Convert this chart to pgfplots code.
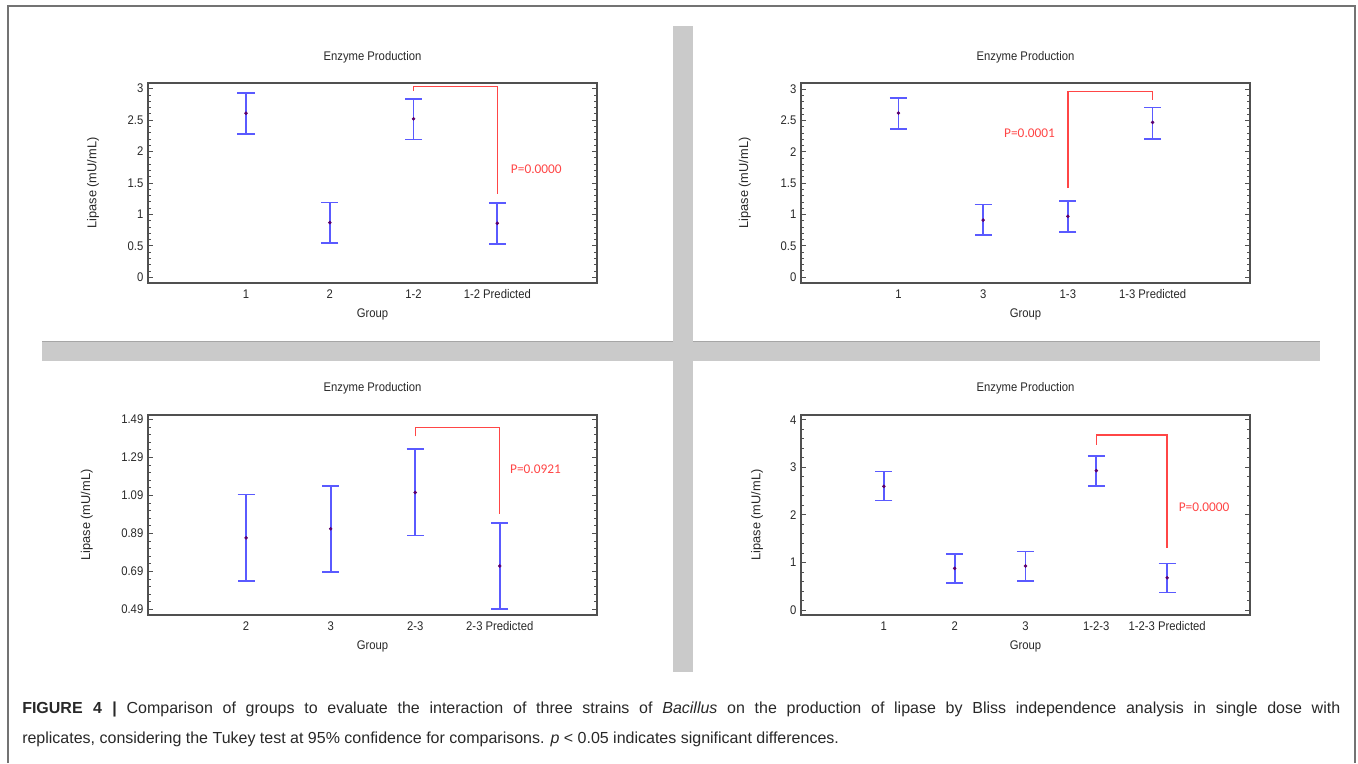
\documentclass[border=0pt]{standalone}
\usepackage{pgfplots}
\pgfplotsset{compat=1.18}
\usepackage{pgfplotstable}
\usepackage{fontspec}
\setmainfont{Liberation Sans}
\newfontfamily\chartfont[FakeStretch=0.9]{Liberation Sans}
\newfontfamily\pfont{Carlito}
\definecolor{barblue}{RGB}{90,90,255}
\definecolor{meanc}{RGB}{90,0,110}
\definecolor{pred}{RGB}{255,70,70}
\definecolor{framec}{RGB}{115,115,115}
\definecolor{divc}{RGB}{202,202,202}
\definecolor{axc}{RGB}{80,80,80}
\definecolor{txtc}{RGB}{40,40,40}

\pgfplotstableread{
x y ep em
0 2.61 0.32 0.33
1 0.87 0.32 0.32
2 2.52 0.32 0.33
3 0.86 0.32 0.33
}\dataA
\pgfplotstableread{
x y ep em
0 2.62 0.24 0.26
1 0.91 0.25 0.24
2 0.97 0.24 0.25
3 2.47 0.24 0.26
}\dataB
\pgfplotstableread{
x y ep em
0 0.866 0.228 0.226
1 0.914 0.226 0.228
2 1.105 0.228 0.226
3 0.718 0.226 0.228
}\dataC
\pgfplotstableread{
x y ep em
0 2.60 0.31 0.30
1 0.875 0.305 0.31
2 0.924 0.306 0.32
3 2.93 0.315 0.33
4 0.677 0.303 0.31
}\dataD

\tikzset{
  ptext/.style={font=\pfont\fontsize{10}{12}\selectfont, text=pred, inner sep=0pt},
  ttext/.style={font=\chartfont\fontsize{9.4}{10}\selectfont, text=txtc, inner sep=0pt, anchor=center},
}
\pgfplotsset{
  panel/.style={
    scale only axis, width=336.75pt, height=150pt, anchor=south west,
    axis line style={draw=axc, line width=0.9pt},
    tick align=inside,
    xtick style={draw=none},
    major y tick style={draw=axc, line width=0.7pt},
    minor y tick style={draw=axc, line width=0.6pt},
    major tick length=4pt, minor tick length=2.2pt,
    minor y tick num=4,
    tick label style={font=\chartfont\fontsize{9.4}{10}\selectfont, text=txtc},
    xticklabel style={yshift=-1.5pt},
    /pgf/number format/assume math mode=true,
    xlabel={Group},
    xlabel style={font=\chartfont\fontsize{9.4}{10}\selectfont, text=txtc, at={(axis description cs:0.5,-0.155)}, anchor=center},
    ylabel={Lipase (mU/mL)},
    ylabel style={font=\fontsize{9.6}{10}\selectfont, text=txtc, anchor=center},
    clip=false,
  },
  ebar/.style={only marks, mark=*, mark size=1.1pt, mark options={draw=meanc, fill=meanc},
    error bars/.cd, y dir=both, y explicit, error mark=|,
    error bar style={draw=barblue, line width=1.3pt},
    error mark options={draw=barblue, line width=1.3pt, mark size=6.4pt}},
  brk/.style={draw=pred, line width=1pt, no marks},
}

\begin{document}
\begin{tikzpicture}
\begin{scope}[x=0.75pt,y=-0.75pt]
\useasboundingbox (0,0) rectangle (1358,763);
\fill[divc] (42,341) rectangle (1320,361);
\draw[black!35, line width=0.75pt] (42,341.5) -- (1320,341.5);
\fill[divc] (673,26) rectangle (693,672);
\draw[framec, line width=1.5pt] (7.5,763) -- (7.5,6.5) -- (1355,6.5) -- (1355,763);
\node[anchor=base west, inner sep=0pt, font=\fontsize{12}{14}\selectfont, text=txtc] at (22,713.5)
  {\makebox[988.5pt][s]{\makebox[71pt][s]{\textbf{FIGURE 4 |}} Comparison of groups to evaluate the interaction of three strains of \textit{Bacillus} on the production of lipase by Bliss independence analysis in single dose with}};
\node[anchor=base west, inner sep=0pt, font=\fontsize{12}{14}\selectfont, text=txtc] at (22,743.5)
  {replicates, considering the Tukey test at 95\% confidence for comparisons. \textit{p} < 0.05 indicates significant differences.};
\end{scope}

% Panel 1
\begin{axis}[panel, at={(111pt,-212.25pt)}, xmin=-1.17, xmax=4.19, ymin=-0.09, ymax=3.09,
  xtick={0,1,2,3}, xticklabels={1,2,1-2,1-2 Predicted},
  ytick={0,0.5,1,1.5,2,2.5,3}, yticklabels={0,0.5,1,1.5,2,2.5,3},
  ylabel style={at={(axis description cs:-0.1225,0.5)}}]
\addplot[ebar] table[x=x,y=y,y error plus=ep,y error minus=em]{\dataA};
\addplot[brk] coordinates {(2,2.96) (2,3.03) (3,3.03) (3,1.33)};
\node[ptext, anchor=west] at (axis cs:3.16,1.72) {P=0.0000};
\node[ttext] at (axis description cs:0.5,1.13) {Enzyme Production};
\end{axis}

% Panel 2
\begin{axis}[panel, at={(600.75pt,-212.25pt)}, xmin=-1.15, xmax=4.15, ymin=-0.095, ymax=3.1,
  xtick={0,1,2,3}, xticklabels={1,3,1-3,1-3 Predicted},
  ytick={0,0.5,1,1.5,2,2.5,3}, yticklabels={0,0.5,1,1.5,2,2.5,3},
  ylabel style={at={(axis description cs:-0.125,0.5)}}]
\addplot[ebar] table[x=x,y=y,y error plus=ep,y error minus=em]{\dataB};
\addplot[brk] coordinates {(2,1.42) (2,2.96) (3,2.96) (3,2.83)};
\node[ptext, anchor=east] at (axis cs:1.85,2.29) {P=0.0001};
\node[ttext] at (axis description cs:0.5,1.13) {Enzyme Production};
\end{axis}

% Panel 3
\begin{axis}[panel, at={(111pt,-461.25pt)}, xmin=-1.16, xmax=4.15, ymin=0.46, ymax=1.513,
  xtick={0,1,2,3}, xticklabels={2,3,2-3,2-3 Predicted},
  ytick={0.49,0.69,0.89,1.09,1.29,1.49}, yticklabels={0.49,0.69,0.89,1.09,1.29,1.49},
  ylabel style={at={(axis description cs:-0.136,0.5)}}]
\addplot[ebar] table[x=x,y=y,y error plus=ep,y error minus=em]{\dataC};
\addplot[brk] coordinates {(2,1.40) (2,1.448) (3,1.448) (3,0.99)};
\node[ptext, anchor=west] at (axis cs:3.12,1.23) {P=0.0921};
\node[ttext] at (axis description cs:0.5,1.135) {Enzyme Production};
\end{axis}

% Panel 4
\begin{axis}[panel, at={(600.75pt,-461.25pt)}, xmin=-1.17, xmax=5.17, ymin=-0.106, ymax=4.1,
  xtick={0,1,2,3,4}, xticklabels={1,2,3,1-2-3,1-2-3 Predicted},
  ytick={0,1,2,3,4}, yticklabels={0,1,2,3,4},
  ylabel style={at={(axis description cs:-0.098,0.5)}}]
\addplot[ebar] table[x=x,y=y,y error plus=ep,y error minus=em]{\dataD};
\addplot[brk] coordinates {(3,3.47) (3,3.68) (4,3.68) (4,1.305)};
\node[ptext, anchor=west] at (axis cs:4.16,2.17) {P=0.0000};
\node[ttext] at (axis description cs:0.5,1.135) {Enzyme Production};
\end{axis}
\end{tikzpicture}
\end{document}
